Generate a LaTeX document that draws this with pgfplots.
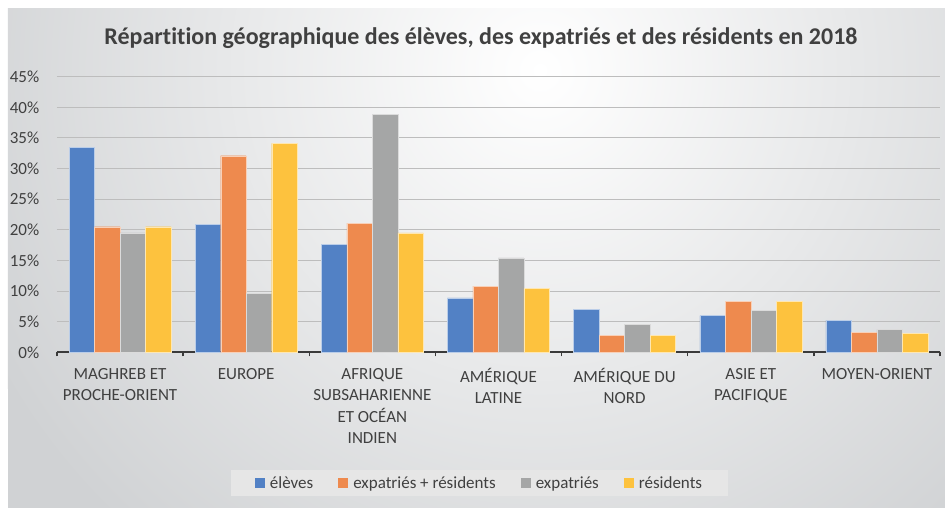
\documentclass[border=0pt]{standalone}
\usepackage{pgfplots}
\pgfplotsset{compat=1.18}
\usepackage{fontspec}
\setmainfont[Ligatures=NoCommon]{Carlito}
\definecolor{cblue}{HTML}{5281C5}
\definecolor{corange}{HTML}{EE8A4E}
\definecolor{cgray}{HTML}{A5A6A6}
\definecolor{cyellow}{HTML}{FDC23E}
\definecolor{txt}{HTML}{404040}
\definecolor{axisdark}{HTML}{3A3A3A}
\definecolor{gridcol}{HTML}{BDBDBD}
\definecolor{bgedge}{HTML}{D0D2D4}
\definecolor{legfill}{HTML}{E6E6E6}
\begin{document}
\begin{tikzpicture}
% background (1pt = 1px of the reference, axis origin at px (57,352.3))
\fill[white] (-57pt,-155.7pt) rectangle (888pt,352.3pt);
\begin{scope}
\clip (-49pt,-155.7pt) rectangle (888pt,343.3pt);
\fill[bgedge] (-49pt,-155.7pt) rectangle (888pt,343.3pt);
\shade[inner color=white, outer color=bgedge] (483pt,282pt) circle (620pt);
\end{scope}
\begin{axis}[
  scale only axis, width=883pt, height=275.6pt,
  ybar=0pt, bar width=25.5pt,
  xmin=-0.5, xmax=6.5, ymin=0, ymax=45,
  xtick={0,...,6},
  xticklabels={{MAGHREB ET\\PROCHE-ORIENT},{EUROPE},{AFRIQUE\\SUBSAHARIENNE\\ET OCÉAN\\INDIEN},{AMÉRIQUE\\LATINE},{AMÉRIQUE DU\\NORD},{ASIE ET\\PACIFIQUE},{MOYEN-ORIENT}},
  minor xtick={-0.5,0.5,...,6.5},
  ytick={0,5,...,45},
  yticklabel={\pgfmathprintnumber[assume math mode=true]{\tick}\%},
  axis x line*=bottom, axis y line*=left,
  x axis line style={line width=1.8pt, color=axisdark, -},
  y axis line style={draw=none},
  major x tick style={draw=none},
  minor x tick style={line width=1.5pt, color=axisdark},
  minor tick length=4pt,
  tick align=outside,
  ytick style={draw=none},
  ymajorgrids, grid style={gridcol, line width=1pt},
  yticklabel style={font=\fontsize{17}{21}\selectfont, text=txt, anchor=east, xshift=-10pt},
  xticklabel style={font=\fontsize{17}{21.5}\selectfont, text=txt, align=center, yshift=-8pt},
  legend columns=4,
  legend style={at={(0.4785,-0.474)}, anchor=center, fill=legfill, draw=none,
    font=\fontsize{17}{21}\selectfont, text=txt, inner xsep=24pt, inner ysep=4pt,
    /tikz/every odd column/.append style={column sep=3pt},
    /tikz/every even column/.append style={column sep=23pt}},
  legend image code/.code={\path[#1, draw=none] (0pt,-5pt) rectangle (10pt,5pt);},
]
\addplot[fill=cblue, draw=white!60!cblue, line width=0.4pt] coordinates {(0,33.5) (1,20.9) (2,17.6) (3,8.9) (4,7.0) (5,6.0) (6,5.2)};
\addplot[fill=corange, draw=white!60!corange, line width=0.4pt] coordinates {(0,20.5) (1,32.1) (2,21.1) (3,10.8) (4,2.8) (5,8.3) (6,3.3)};
\addplot[fill=cgray, draw=white!60!cgray, line width=0.4pt] coordinates {(0,19.5) (1,9.6) (2,38.9) (3,15.4) (4,4.6) (5,6.9) (6,3.7)};
\addplot[fill=cyellow, draw=white!60!cyellow, line width=0.4pt] coordinates {(0,20.5) (1,34.1) (2,19.5) (3,10.4) (4,2.8) (5,8.3) (6,3.1)};
\legend{élèves, expatriés + résidents, expatriés, résidents}
\end{axis}
\node[font=\bfseries\fontsize{24}{28}\selectfont, text=txt] at (424pt,314pt) {Répartition géographique des élèves, des expatriés et des résidents en 2018};
\end{tikzpicture}
\end{document}
